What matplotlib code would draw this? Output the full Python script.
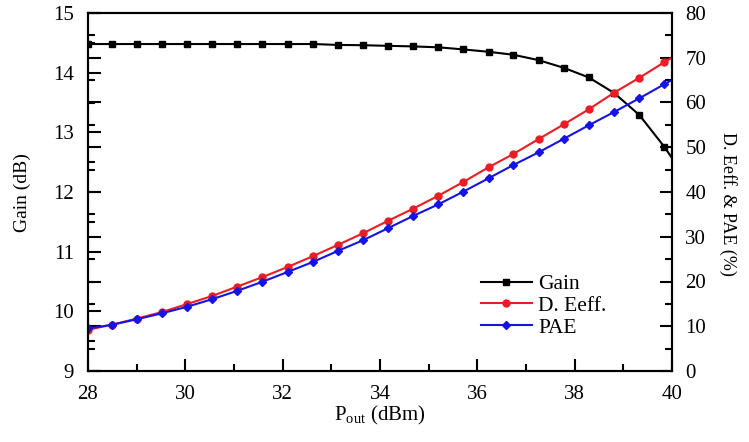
"""Gain, drain efficiency and PAE vs output power (dual y-axis)."""

import matplotlib
matplotlib.use("Agg")
import matplotlib.pyplot as plt
from matplotlib.ticker import MultipleLocator

# output power sweep (dBm)
POUT = [28.0, 28.49, 29.0, 29.52, 30.04, 30.55, 31.07, 31.58, 32.10, 32.62,
        33.13, 33.65, 34.16, 34.68, 35.20, 35.71, 36.23, 36.74, 37.26, 37.78,
        38.29, 38.81, 39.33, 39.84, 40.36]
GAIN = [14.48, 14.48, 14.48, 14.48, 14.48, 14.48, 14.48, 14.48, 14.48, 14.48,
        14.465, 14.46, 14.45, 14.44, 14.425, 14.39, 14.35, 14.30, 14.21, 14.08,
        13.92, 13.66, 13.29, 12.76, 12.14]
DEFF = [9.2, 10.35, 11.7, 13.18, 14.97, 16.76, 18.88, 20.96, 23.24, 25.65,
        28.16, 30.77, 33.54, 36.27, 39.17, 42.23, 45.52, 48.49, 51.84, 55.13,
        58.48, 62.19, 65.54, 68.98, 72.4]
PAE = [9.5, 10.32, 11.55, 12.89, 14.37, 16.04, 17.92, 19.93, 22.12, 24.36,
       26.82, 29.21, 31.89, 34.64, 37.25, 40.07, 43.06, 46.03, 48.87, 51.91,
       54.91, 57.88, 60.94, 64.07, 67.2]

plt.rcParams["font.family"] = ["Liberation Serif", "DejaVu Serif"]
plt.rcParams["mathtext.fontset"] = "custom"
plt.rcParams["mathtext.rm"] = "Liberation Serif"

FS = 15     # tick labels
GFS = 15.5  # legend

fig = plt.figure(figsize=(7.49, 4.42), dpi=100)
ax = fig.add_axes([88 / 749, 1 - 371 / 442, (672 - 88) / 749, (371 - 13) / 442])
ax2 = ax.twinx()

l1, = ax.plot(POUT, GAIN, "-s", color="black", lw=1.5, ms=4.5, label="Gain")
l2, = ax2.plot(POUT, DEFF, "-o", color="#ec1c24", lw=1.5, ms=5, label="D. Eeff.")
l3, = ax2.plot(POUT, PAE, "-D", color="#1414e6", lw=1.5, ms=4.5, label="PAE")

ax.set_xlim(28, 40)
ax.set_ylim(9, 15)
ax2.set_ylim(0, 80)

ax.xaxis.set_major_locator(MultipleLocator(2))
ax.xaxis.set_minor_locator(MultipleLocator(1))
ax.yaxis.set_major_locator(MultipleLocator(1))
ax.yaxis.set_minor_locator(MultipleLocator(0.5))
ax2.yaxis.set_major_locator(MultipleLocator(10))
ax2.yaxis.set_minor_locator(MultipleLocator(5))

ax.tick_params(axis="x", which="both", direction="in", top=False, labelsize=FS,
               width=1.5, pad=10)
ax.tick_params(axis="x", which="major", length=9)
ax.tick_params(axis="x", which="minor", length=5)
ax.tick_params(axis="y", which="both", direction="in", right=False, labelsize=FS,
               width=1.5, pad=10)
ax.tick_params(axis="y", which="major", length=9)
ax.tick_params(axis="y", which="minor", length=5)
# right-axis ticks are mirrored onto the left spine, labels only on the right
ax2.tick_params(axis="y", which="both", direction="in", left=True, right=True,
                labelleft=False, labelright=True, labelsize=FS, width=1.5, pad=9.5)
ax2.tick_params(axis="y", which="major", length=9)
ax2.tick_params(axis="y", which="minor", length=5)

for a in (ax, ax2):
    for s in a.spines.values():
        s.set_linewidth(1.5)

ax.set_xlabel("P$_{\\rm out}$ (dBm)", fontsize=15, labelpad=0)
ax.set_ylabel("Gain (dB)", fontsize=14, va="center")
ax.yaxis.set_label_coords((22 - 88) / 584, (371 - 193) / 358)
ax2.set_ylabel("D. Eeff. & PAE (%)", fontsize=13, rotation=270, va="center")
ax2.yaxis.set_label_coords((728 - 88) / 584, (371 - 204) / 358)

fig.legend(handles=[l1, l2, l3], loc="upper left",
           bbox_to_anchor=(481 / 749, 1 - 274 / 442), frameon=False,
           borderpad=0, borderaxespad=0,
           fontsize=GFS, handlelength=2.35, handletextpad=0.3, labelspacing=0.08)

fig.savefig("out.png", dpi=100)
